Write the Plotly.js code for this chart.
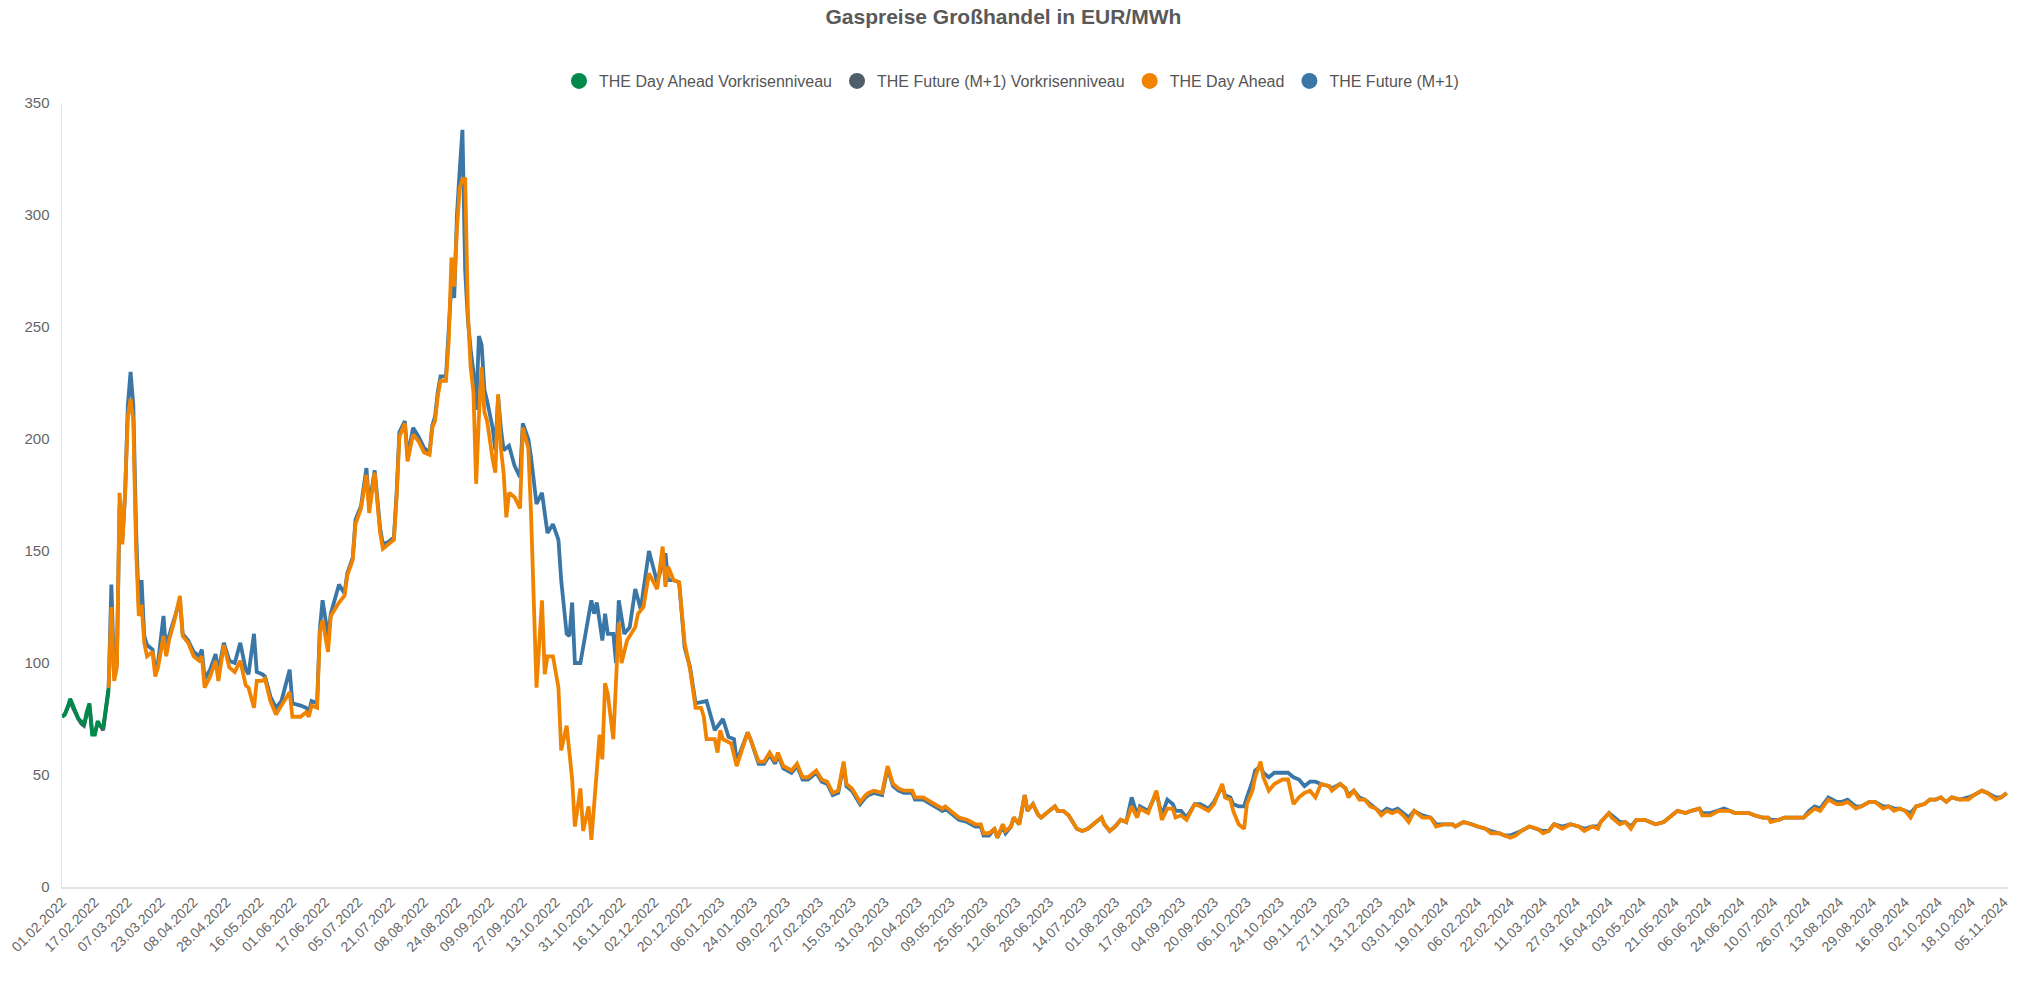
<!DOCTYPE html>
<html>
<head>
<meta charset="utf-8">
<script src="https://cdn.plot.ly/plotly-3.0.1.min.js"></script>
<style>
  html, body { margin: 0; padding: 0; background: #ffffff; }
  #chart { width: 2023px; height: 985px; }
</style>
</head>
<body>
<div id="chart"></div>
<script>
// ---- Data ----
// x-axis: trading day number (0 = 01.02.2022); one label every 12 trading days
const tickLabels = [
  "01.02.2022","17.02.2022","07.03.2022","23.03.2022","08.04.2022","28.04.2022","16.05.2022","01.06.2022","17.06.2022","05.07.2022",
  "21.07.2022","08.08.2022","24.08.2022","09.09.2022","27.09.2022","13.10.2022","31.10.2022","16.11.2022","02.12.2022","20.12.2022",
  "06.01.2023","24.01.2023","09.02.2023","27.02.2023","15.03.2023","31.03.2023","20.04.2023","09.05.2023","25.05.2023","12.06.2023",
  "28.06.2023","14.07.2023","01.08.2023","17.08.2023","04.09.2023","20.09.2023","06.10.2023","24.10.2023","09.11.2023","27.11.2023",
  "13.12.2023","03.01.2024","19.01.2024","06.02.2024","22.02.2024","11.03.2024","27.03.2024","16.04.2024","03.05.2024","21.05.2024",
  "06.06.2024","24.06.2024","10.07.2024","26.07.2024","13.08.2024","29.08.2024","16.09.2024","02.10.2024","18.10.2024","05.11.2024"
];
const tradingDaysPerLabel = 12;

// Pre-crisis period (Vorkrisenniveau)
const vorkriseDays = [0,1,2,3,4,5,6,7,8,9,10,11,12,13,14,15,16,17];
const dayAheadVorkrise = [76,77,80,84,81,78,75,74,72,78,82,68,68,74,72,71,80,89];
const futureVorkrise   = [76,77,80,83,80,77,75,73,72,77,81,69,69,73,72,70,79,88];

// THE Day Ahead
const dayAheadDays = [17,18,19,20,21,22,23,24,25,26,27,28,29,30,31,33,34,35,37,38,39,41,43,44,46,48,50,51,52,54,56,57,59,61,63,65,67,68,70,71,73,74,76,78,80,83,84,87,89,90,91,93,94,95,97,98,101,103,104,106,107,109,111,112,113,114,116,117,119,121,122,123,125,126,128,130,132,134,135,136,137,138,140,141,142,143,144,145,146,147,148,149,150,151,152,153,154,155,157,158,159,160,161,162,163,165,167,168,170,171,173,175,176,177,179,181,182,184,186,187,189,190,192,193,195,196,197,198,199,201,203,204,206,209,210,212,214,217,219,220,221,223,225,227,229,231,233,234,235,238,239,240,241,244,246,248,250,251,254,256,258,260,261,263,266,268,270,272,275,277,279,281,283,285,286,288,291,293,294,296,299,301,303,305,307,310,311,314,317,321,322,324,327,330,333,335,336,338,340,341,343,344,346,347,349,351,352,354,356,357,360,362,363,365,367,369,370,372,374,376,379,380,382,384,386,388,390,392,393,396,398,399,401,403,405,406,408,410,413,415,418,420,423,424,426,427,429,431,432,434,435,437,438,440,442,445,447,449,451,453,455,457,459,462,463,466,468,469,471,473,475,477,479,481,483,485,487,489,491,493,496,499,501,504,507,508,511,514,516,519,521,524,526,528,530,532,535,538,540,542,544,547,550,553,555,558,560,561,564,565,568,570,572,574,577,579,581,584,587,589,592,594,597,598,601,604,606,608,610,612,615,617,620,622,623,626,628,630,633,635,637,639,641,644,647,649,651,654,656,659,661,664,666,668,670,672,674,676,679,681,683,685,687,689,692,695,697,700,702,705,707,709];
const dayAheadPrice = [89,125,92,98,176,153,176,210,218,208,151,121,126,109,103,105,94,98,112,103,110,119,130,112,109,103,101,103,89,94,101,92,108,98,96,101,90,89,80,92,92,93,83,77,81,87,76,76,78,76,81,80,114,119,105,121,127,130,139,146,162,169,184,167,176,185,158,151,153,155,174,201,207,190,202,199,194,193,205,208,219,226,226,244,281,268,294,312,316,316,256,232,221,180,210,232,212,208,191,185,220,196,185,165,176,174,169,205,196,167,89,128,95,103,103,89,61,72,48,27,44,25,36,21,52,68,57,91,86,66,118,100,110,116,122,125,140,133,152,134,143,137,136,109,97,80,80,76,66,66,60,70,66,64,54,61,69,66,56,56,60,56,60,54,52,55,49,49,52,48,47,42,43,56,46,44,38,41,42,43,42,54,46,44,43,43,40,40,38,35,36,34,31,30,28,28,24,24,26,22,28,25,27,31,28,41,34,37,32,31,34,36,34,34,32,28,26,25,26,28,31,28,25,27,30,29,36,31,35,33,39,43,30,35,35,31,32,30,37,36,34,37,46,40,39,34,28,26,37,43,49,56,49,43,46,48,48,37,40,42,43,40,46,45,43,46,44,40,43,39,39,36,35,32,34,33,34,32,29,34,31,31,27,28,28,27,29,28,27,26,24,24,23,22,23,25,27,26,24,25,28,26,28,27,25,27,26,29,33,31,28,29,26,30,30,29,28,29,32,34,33,34,35,32,32,34,34,34,33,33,33,32,31,31,29,30,31,31,31,31,33,35,34,39,37,37,38,35,36,38,38,35,36,34,35,34,31,36,37,39,39,40,38,40,39,39,41,43,42,39,40,42];

// THE Future (M+1)
const futureDays = [17,18,19,20,21,22,23,24,25,26,27,28,29,30,31,33,34,35,37,38,39,41,43,44,46,48,50,51,52,54,56,57,59,61,63,65,67,68,70,71,73,74,76,78,80,83,84,87,89,90,91,93,94,95,97,98,101,103,104,106,107,109,111,112,113,114,116,117,119,121,122,123,125,126,128,130,132,134,135,136,137,138,140,141,142,143,144,145,146,147,148,149,150,151,152,153,154,155,157,158,159,160,161,163,165,167,168,170,171,173,175,177,179,181,182,184,185,186,187,189,191,193,194,195,197,198,199,201,202,203,205,207,209,211,214,217,220,221,223,225,227,229,231,234,235,238,240,241,243,245,246,248,250,251,254,256,258,260,261,263,266,268,270,272,275,277,279,281,283,285,286,288,291,293,294,296,299,301,303,305,307,310,311,314,317,321,322,324,327,330,333,335,336,338,340,341,343,344,346,347,349,351,352,354,356,357,360,362,363,365,367,369,370,372,374,376,379,380,382,384,386,388,390,392,393,396,398,399,401,403,405,406,408,410,413,415,418,420,423,424,426,427,429,431,432,434,435,437,438,440,442,445,447,449,451,453,455,457,459,462,463,466,468,469,471,473,475,477,479,481,483,485,487,489,491,493,496,499,501,504,507,508,511,514,516,519,521,524,526,528,530,532,535,538,540,542,544,547,550,553,555,558,560,561,564,565,568,570,572,574,577,579,581,584,587,589,592,594,597,598,601,604,606,608,610,612,615,617,620,622,623,626,628,630,633,635,637,639,641,644,647,649,651,654,656,659,661,664,666,668,670,672,674,676,679,681,683,685,687,689,692,695,697,700,702,705,707,709];
const futurePrice = [89,135,95,100,170,155,175,215,230,215,160,125,137,112,108,106,97,100,121,105,112,120,128,113,110,105,103,106,93,97,104,96,109,101,100,109,97,95,113,96,95,94,85,80,83,97,82,81,80,78,83,82,115,128,112,122,135,131,140,147,164,170,187,170,178,186,160,153,154,156,176,203,208,192,205,201,196,194,206,210,221,228,228,246,270,263,300,320,338,275,253,240,230,213,246,242,222,217,205,195,219,205,195,197,188,183,207,200,192,171,176,158,162,155,137,113,112,127,100,100,113,128,122,127,110,122,113,113,100,128,113,116,133,124,150,136,149,137,137,136,107,98,82,83,83,70,73,75,67,66,56,63,69,66,55,55,59,55,59,53,51,54,48,48,51,47,46,41,42,55,45,43,37,40,41,42,41,53,45,43,42,42,39,39,37,34,35,33,30,29,27,27,23,23,26,22,27,24,27,31,28,41,34,37,32,31,34,36,34,34,32,28,26,25,26,28,31,28,25,27,30,29,40,32,36,34,39,42,32,39,37,34,34,31,37,37,35,38,45,41,40,37,36,36,40,47,52,54,51,49,51,51,51,49,48,45,47,47,46,45,44,46,44,41,43,40,39,37,35,33,35,34,35,33,31,34,32,31,28,28,28,27,29,28,27,26,25,24,23,23,24,25,27,26,25,25,28,27,28,27,26,27,27,29,33,32,29,29,27,30,30,29,28,29,32,34,33,34,35,33,33,34,35,34,33,33,33,32,31,31,30,30,31,31,31,31,34,36,35,40,38,38,39,36,36,38,38,36,36,35,35,34,33,36,37,39,39,40,38,40,39,40,41,43,42,40,40,42];

const seriesNames = ["THE Day Ahead Vorkrisenniveau", "THE Future (M+1) Vorkrisenniveau", "THE Day Ahead", "THE Future (M+1)"];
const seriesColors = ["#00894a", "#4e5f6b", "#f08400", "#3b77a6"];

// ---- Chart ----
const tickVals = tickLabels.map((_, k) => k * tradingDaysPerLabel);
const lineW = 3.8;

const traces = [
  { x: vorkriseDays, y: futureVorkrise, name: seriesNames[1], mode: "lines", line: { color: seriesColors[1], width: lineW }, showlegend: false, hoverinfo: "skip" },
  { x: vorkriseDays, y: dayAheadVorkrise, name: seriesNames[0], mode: "lines", line: { color: seriesColors[0], width: lineW }, showlegend: false, hoverinfo: "skip" },
  { x: futureDays, y: futurePrice, name: seriesNames[3], mode: "lines", line: { color: seriesColors[3], width: lineW }, showlegend: false, hoverinfo: "skip" },
  { x: dayAheadDays, y: dayAheadPrice, name: seriesNames[2], mode: "lines", line: { color: seriesColors[2], width: lineW }, showlegend: false, hoverinfo: "skip" }
];
// legend entries (circle symbols) in the reference order
seriesNames.forEach((n, k) => {
  traces.push({ x: [null], y: [null], name: n, mode: "markers", type: "scatter",
    marker: { color: seriesColors[k], size: 22, symbol: "circle" }, showlegend: true, hoverinfo: "skip" });
});

const layout = {
  width: 2023, height: 985,
  paper_bgcolor: "#ffffff", plot_bgcolor: "#ffffff",
  margin: { l: 62, r: 15, t: 103, b: 98 },
  font: { family: "Liberation Sans, Arial, sans-serif", color: "#666666", size: 13 },
  title: {
    text: "<b>Gaspreise Großhandel in EUR/MWh</b>",
    font: { family: "Liberation Sans, Arial, sans-serif", size: 21, color: "#595959" },
    x: 0.496, xref: "container", xanchor: "center",
    y: 1 - 17 / 985, yref: "container", yanchor: "middle"
  },
  showlegend: true,
  legend: {
    orientation: "h", x: 0.5, xref: "container", xanchor: "center",
    y: 1 - 81 / 985, yref: "container", yanchor: "middle",
    font: { family: "Liberation Sans, Arial, sans-serif", size: 16, color: "#555555" },
    itemwidth: 30, itemsizing: "trace", bgcolor: "rgba(0,0,0,0)"
  },
  xaxis: {
    range: [0, 709.5], showgrid: false, zeroline: false,
    showline: true, linecolor: "#e3e3e3", linewidth: 1.5,
    tickmode: "array", tickvals: tickVals, ticktext: tickLabels,
    tickangle: -45, ticks: "", tickfont: { size: 14, color: "#666666" },
    fixedrange: true
  },
  yaxis: {
    range: [0, 350], showgrid: false, zeroline: false,
    showline: true, linecolor: "#e3e3e3", linewidth: 1.5,
    tickmode: "array", tickvals: [0, 50, 100, 150, 200, 250, 300, 350],
    ticks: "", ticklabelstandoff: 8, tickfont: { size: 15, color: "#666666" },
    fixedrange: true
  }
};

Plotly.newPlot("chart", traces, layout, { displayModeBar: false, staticPlot: true });
</script>
</body>
</html>
